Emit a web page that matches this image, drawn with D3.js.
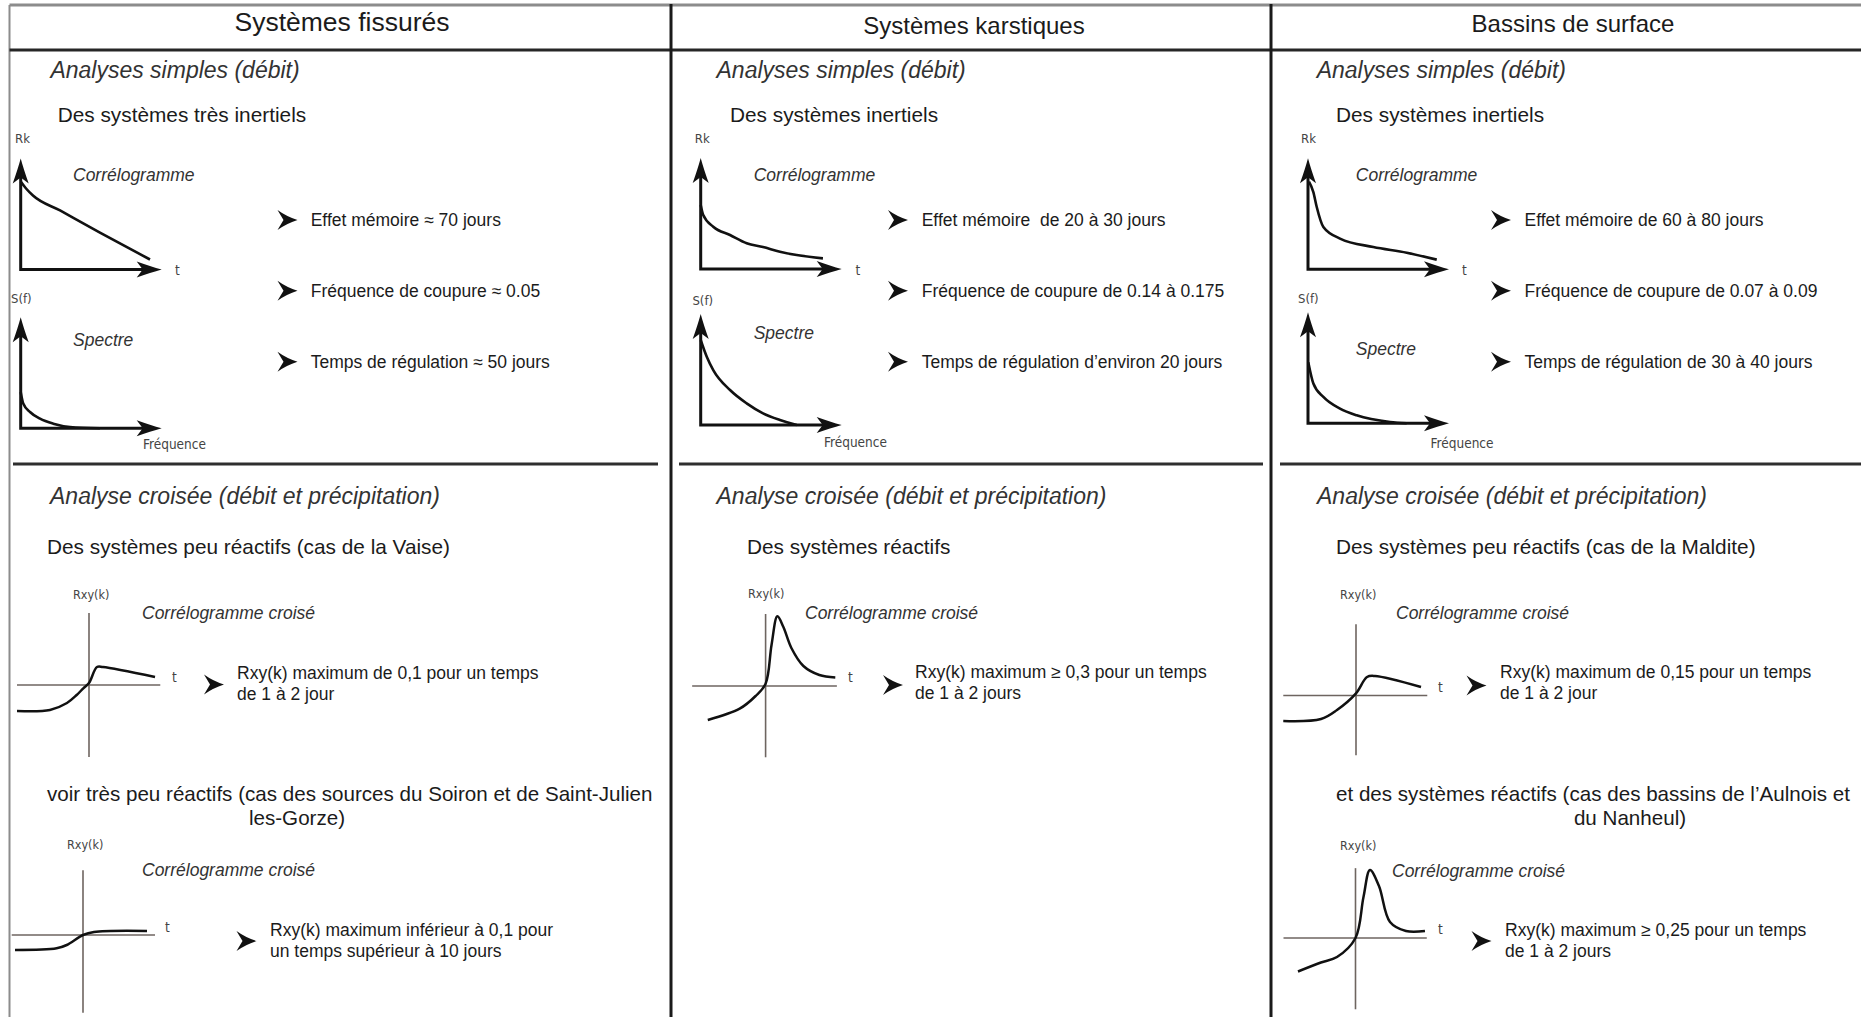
<!DOCTYPE html>
<html>
<head>
<meta charset="utf-8">
<title>Analyses simples et croisées</title>
<script src="https://d3js.org/d3.v7.min.js"></script>
<style>
  body { margin: 0; background: #fff; }
  text { font-family: "Liberation Sans", Arial, sans-serif; fill: #1b1b1b; white-space: pre; }
  .small { font-family: "Liberation Sans Narrow", "DejaVu Sans Condensed", "Liberation Sans", sans-serif; fill: #444; }
  .soft { fill: #333; }
</style>
</head>
<body>
<script>
// textes du tableau
var columnTitles = ["Systèmes fissurés", "Systèmes karstiques", "Bassins de surface"];
var simpleTitle = "Analyses simples (débit)";
var crossTitle = "Analyse croisée (débit et précipitation)";
var simpleSubtitles = ["Des systèmes très inertiels", "Des systèmes inertiels", "Des systèmes inertiels"];
var simpleResults = [
  ["Effet mémoire ≈ 70 jours", "Fréquence de coupure ≈ 0.05", "Temps de régulation ≈ 50 jours"],
  ["Effet mémoire  de 20 à 30 jours", "Fréquence de coupure de 0.14 à 0.175", "Temps de régulation d’environ 20 jours"],
  ["Effet mémoire de 60 à 80 jours", "Fréquence de coupure de 0.07 à 0.09", "Temps de régulation de 30 à 40 jours"]
];
var crossHeadings = [
  [["Des systèmes peu réactifs (cas de la Vaise)"], ["voir très peu réactifs (cas des sources du Soiron et de Saint-Julien", "les-Gorze)"]],
  [["Des systèmes réactifs"]],
  [["Des systèmes peu réactifs (cas de la Maldite)"], ["et des systèmes réactifs (cas des bassins de l’Aulnois et", "du Nanheul)"]]
];
var crossResults = [
  [["Rxy(k) maximum de 0,1 pour un temps", "de 1 à 2 jour"], ["Rxy(k) maximum inférieur à 0,1 pour", "un temps supérieur à 10 jours"]],
  [["Rxy(k) maximum ≥ 0,3 pour un temps", "de 1 à 2 jours"]],
  [["Rxy(k) maximum de 0,15 pour un temps", "de 1 à 2 jour"], ["Rxy(k) maximum ≥ 0,25 pour un temps", "de 1 à 2 jours"]]
];

// courbes : [t, Rk] et [f, S(f)] normalisés
var rkCurves = [
  [[0, .793], [.038, .73], [.087, .667], [.279, .532], [.562, .333], [.917, .09]],
  [[0, .577], [.018, .486], [.089, .381], [.208, .306], [.326, .232], [.442, .198], [.562, .156], [.681, .126], [.867, .096]],
  [[.007, .79], [.038, .696], [.062, .561], [.109, .381], [.227, .277], [.463, .201], [.7, .15], [.913, .087]]
];
var sfCurves = [
  [[0, .327], [.018, .223], [.066, .147], [.137, .087], [.231, .042], [.35, .012], [.562, 0]],
  [[0, .766], [.043, .615], [.089, .495], [.208, .315], [.326, .195], [.442, .105], [.562, .045], [.681, 0]],
  [[.002, .55], [.038, .358], [.109, .237], [.227, .132], [.345, .072], [.582, .012], [.7, 0]]
];
// corrélogrammes croisés : [k, Rxy(k)] normalisés sur [-1, 1]
var rxyCurves = [
  [[[-1, -.361], [-.542, -.347], [-.306, -.25], [-.171, -.139], [-.079, -.046], [0, .028], [.111, .25], [.194, .25], [.917, .111]],
   [[-.944, -.208], [-.366, -.185], [-.226, -.139], [0, 0], [.153, .042], [.889, .056]]],
  [[[-.803, -.472], [-.36, -.315], [-.139, -.139], [0, .031], [.083, .574], [.164, .968], [.247, .819], [.358, .528], [.525, .278], [.747, .153], [.968, .119]]],
  [[[-1.01, -.354], [-.486, -.326], [-.264, -.201], [0, .03], [.153, .257], [.264, .271], [.903, .118]],
   [[-.799, -.465], [-.48, -.34], [-.257, -.264], [0, 0], [.111, .569], [.201, .944], [.326, .722], [.479, .222], [.701, .097], [.965, .097]]]
];

// mise en page (pixels)
var W = 1861, H = 1017;
var colLines = [671, 1271];
var sectionLines = [[13, 658], [679, 1263], [1280, 1861]];
var titleSizes = [26.5, 24, 24];
var topLayout = [
  {title: [342, 22], simple: [50.4, 70], sub: [57.7, 114], ox: 20.7, oyRk: 269.5, oySf: 428.3,
   rk: [15, 138], sf: [11, 298], corr: [73, 175], spec: [73, 340], t: [175, 270], freq: [143, 444], arrowX: 287.5, resX: 310.7},
  {title: [974, 25], simple: [716.5, 70], sub: [730, 114], ox: 700.7, oyRk: 269, oySf: 425,
   rk: [694.8, 138], sf: [692.4, 300], corr: [753.7, 175], spec: [753.7, 333], t: [855.6, 270], freq: [824, 441.7], arrowX: 898, resX: 921.7},
  {title: [1573, 23], simple: [1316.7, 70], sub: [1336, 114], ox: 1308, oyRk: 269.3, oySf: 423.3,
   rk: [1301, 138], sf: [1298, 298], corr: [1355.8, 175], spec: [1355.8, 349], t: [1462, 270], freq: [1430.6, 442.7], arrowX: 1501, resX: 1524.5}
];
var resultY = [220, 290.7, 361.7];
var crossTitleX = [50, 716.5, 1317];
var crossLayout = [
  [{head: [47, 546], rxy: [73, 594], corr: [142, 613], c: [89, 685], h: [-1, .99], v: [-1, 1], t: [172, 677], arrow: [214, 684.5], res: [237, 673]},
   {head: [47, 793], head2X: 297, rxy: [67, 844], corr: [142, 870], c: [83, 935], h: [-.99, 1], v: [-1.08, .9], t: [165, 927], arrow: [246.5, 941], res: [270, 930]}],
  [{head: [747, 546], rxy: [748, 593], corr: [805, 613], c: [765.6, 686], h: [-1.02, .99], v: [-.99, 1], t: [848, 677], arrow: [893, 685], res: [915, 672]}],
  [{head: [1336, 546], rxy: [1340, 594], corr: [1396, 613], c: [1356, 695.5], h: [-1.01, .99], v: [-.83, .99], t: [1438, 687], arrow: [1476.5, 685.5], res: [1500, 672]},
   {head: [1336, 793], head2X: 1630, rxy: [1340, 845], corr: [1392, 871], c: [1355.5, 938], h: [-1, .99], v: [-.99, .97], t: [1438, 929], arrow: [1481.5, 941], res: [1505, 930]}]
];

var svg = d3.select("body").append("svg")
  .attr("width", W).attr("height", H).style("display", "block");
svg.append("rect").attr("width", W).attr("height", H).attr("fill", "#fff");

var axisHead = "M0,0 Q-11,-3 -25,-8 L-19,0 L-25,8 Q-11,3 0,0 Z";
var bullet = "M10,0 Q-1,-3.5 -10,-10 L-4,0 L-10,10 Q-1,3.5 10,0 Z";

function txt(p, s, size, opt) {
  opt = opt || {};
  return svg.append("text")
    .attr("x", p[0]).attr("y", p[1])
    .attr("dominant-baseline", "central")
    .attr("font-size", size)
    .attr("font-style", opt.italic ? "italic" : null)
    .attr("text-anchor", opt.anchor || "start")
    .attr("class", opt.cls || null)
    .text(s);
}
function hline(x1, x2, y, col, w) {
  svg.append("line").attr("x1", x1).attr("x2", x2).attr("y1", y).attr("y2", y)
    .attr("stroke", col).attr("stroke-width", w);
}
function vline(x, y1, y2, col, w) {
  svg.append("line").attr("x1", x).attr("x2", x).attr("y1", y1).attr("y2", y2)
    .attr("stroke", col).attr("stroke-width", w);
}

// cadre du tableau
hline(9.5, W, 5, "#8c8c8c", 3);
vline(9.5, 5, H, "#8c8c8c", 2);
hline(9.5, W, 50, "#262626", 3);
colLines.forEach(function (x) { vline(x, 4, H, "#1a1a1a", 3); });
sectionLines.forEach(function (s) { hline(s[0], s[1], 464, "#2e2e2e", 3); });

// petit graphe avec axes fléchés
function simpleChart(ox, oy, pts) {
  var x = d3.scaleLinear().domain([0, 1]).range([ox, ox + 141]);
  var y = d3.scaleLinear().domain([0, 1]).range([oy, oy - 111]);
  var line = d3.line().x(function (d) { return x(d[0]); }).y(function (d) { return y(d[1]); })
    .curve(d3.curveMonotoneX);
  svg.append("path").datum(pts).attr("d", line)
    .attr("fill", "none").attr("stroke", "#111").attr("stroke-width", 2.6);
  svg.append("path")
    .attr("d", "M" + x(0) + "," + (y(1) + 16) + " L" + x(0) + "," + y(0) + " L" + (x(1) - 16) + "," + y(0))
    .attr("fill", "none").attr("stroke", "#111").attr("stroke-width", 3).attr("stroke-linejoin", "miter");
  svg.append("path").attr("d", axisHead).attr("fill", "#111")
    .attr("transform", "translate(" + x(1) + "," + y(0) + ")");
  svg.append("path").attr("d", axisHead).attr("fill", "#111")
    .attr("transform", "translate(" + x(0) + "," + y(1) + ") rotate(-90)");
}

// corrélogramme croisé
function crossChart(L, pts) {
  var x = d3.scaleLinear().domain([-1, 1]).range([L.c[0] - 72, L.c[0] + 72]);
  var y = d3.scaleLinear().domain([-1, 1]).range([L.c[1] + 72, L.c[1] - 72]);
  hline(x(L.h[0]), x(L.h[1]), y(0), "#6e6560", 1.6);
  vline(x(0), y(L.v[1]), y(L.v[0]), "#6e6560", 1.6);
  var line = d3.line().x(function (d) { return x(d[0]); }).y(function (d) { return y(d[1]); })
    .curve(d3.curveCatmullRom.alpha(0.5));
  svg.append("path").datum(pts).attr("d", line)
    .attr("fill", "none").attr("stroke", "#111").attr("stroke-width", 2.5);
}

function bulletAt(p) {
  svg.append("path").attr("d", bullet).attr("fill", "#111")
    .attr("transform", "translate(" + p[0] + "," + p[1] + ")");
}

columnTitles.forEach(function (title, i) {
  var L = topLayout[i];
  txt(L.title, title, titleSizes[i], {anchor: "middle"});

  // analyses simples
  txt(L.simple, simpleTitle, 23, {italic: true, cls: "soft"});
  txt(L.sub, simpleSubtitles[i], 20.8);
  txt(L.rk, "Rk", 13, {cls: "small"});
  txt(L.sf, "S(f)", 13, {cls: "small"});
  txt(L.corr, "Corrélogramme", 17.5, {italic: true, cls: "soft"});
  txt(L.spec, "Spectre", 17.5, {italic: true, cls: "soft"});
  txt(L.t, "t", 13.5, {cls: "small"});
  txt(L.freq, "Fréquence", 13.5, {cls: "small"});
  simpleChart(L.ox, L.oyRk, rkCurves[i]);
  simpleChart(L.ox, L.oySf, sfCurves[i]);
  simpleResults[i].forEach(function (r, j) {
    bulletAt([L.arrowX, resultY[j]]);
    txt([L.resX, resultY[j]], r, 17.5);
  });

  // analyse croisée
  txt([crossTitleX[i], 495.5], crossTitle, 23, {italic: true, cls: "soft"});
  crossLayout[i].forEach(function (C, k) {
    var head = crossHeadings[i][k];
    var hs = head[1] ? 20.6 : 20.8;
    txt(C.head, head[0], hs);
    if (head[1]) txt([C.head2X, C.head[1] + 24], head[1], hs, {anchor: "middle"});
    txt(C.rxy, "Rxy(k)", 12.5, {cls: "small"});
    txt(C.corr, "Corrélogramme croisé", 17.5, {italic: true, cls: "soft"});
    txt(C.t, "t", 13.5, {cls: "small"});
    crossChart(C, rxyCurves[i][k]);
    bulletAt(C.arrow);
    crossResults[i][k].forEach(function (r, j) {
      txt([C.res[0], C.res[1] + j * 21], r, 17.5);
    });
  });
});
</script>
</body>
</html>
